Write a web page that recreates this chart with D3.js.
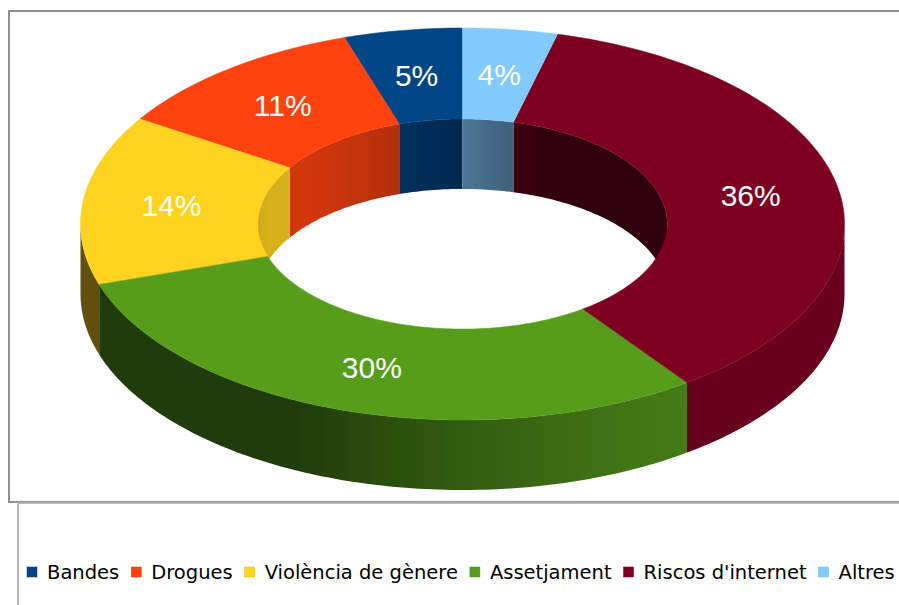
<!DOCTYPE html>
<html>
<head>
<meta charset="utf-8">
<script src="https://cdn.jsdelivr.net/npm/d3@7"></script>
<style>
  body { margin: 0; background: #fff; }
  svg { display: block; }
</style>
</head>
<body>
<svg width="899" height="605"></svg>
<script>
// data
const categories = ["Bandes", "Drogues", "Violència de gènere", "Assetjament", "Riscos d'internet", "Altres"]
const values = [5, 11, 14, 30, 36, 4]
const colors = ["#004586", "#ff420e", "#ffd320", "#579d1c", "#7e0021", "#83caff"]

const svg = d3.select("svg")
const defs = svg.append("defs")

// frames
svg.append("rect").attr("x", 9).attr("y", 11).attr("width", 920).attr("height", 491)
  .attr("fill", "none").attr("stroke", "#8e8e8e").attr("stroke-width", 2)
svg.append("rect").attr("x", 18).attr("y", 503).attr("width", 920).attr("height", 140)
  .attr("fill", "none").attr("stroke", "#b4b4b4").attr("stroke-width", 2)

// 3d ellipse geometry
const cx = 462.5, cy = 224, rx = 382, ry = 196, hole = 0.536, depth = 70
const pt = (a, k, dz) => [cx + k * rx * Math.sin(a), cy - k * ry * Math.cos(a) + (dz || 0)]

const color = d3.scaleOrdinal().domain(categories).range(colors)
const pie = d3.pie().sort(null).startAngle(0).endAngle(-2 * Math.PI)
const arcs = pie(values).map((d, i) => Object.assign(d, { name: categories[i] }))

// light comes from the right/front
const L = [0.9, 0.44]
function shade(c, n) {
  const dot = Math.max(0, n[0] * L[0] + n[1] * L[1])
  return d3.interpolateRgb("#000", c)(0.38 + 0.46 * dot)
}

const g = svg.append("g")
const walls = g.append("g")
const step = Math.PI / 180
let gid = 0

// one band per visible run of a slice, filled with a gradient along x
function wall(d, k, inner) {
  const a0 = d.startAngle, a1 = d.endAngle
  const n = Math.max(2, Math.ceil(Math.abs(a1 - a0) / step))
  const angs = d3.range(n + 1).map(i => a0 + (a1 - a0) * i / n)
  const runs = []
  let cur = null
  angs.forEach(a => {
    const vis = inner ? Math.cos(a) >= -1e-9 : Math.cos(a) <= 1e-9
    if (vis) { if (!cur) { cur = []; runs.push(cur) } cur.push(a) }
    else cur = null
  })
  runs.forEach(run => {
    if (run.length < 2) return
    const top = run.map(a => pt(a, k))
    const bot = run.slice().reverse().map(a => pt(a, k, depth))
    const xs = top.map(p => p[0])
    const x0 = d3.min(xs), x1 = d3.max(xs)
    const id = "w" + (gid++)
    const grad = defs.append("linearGradient").attr("id", id)
      .attr("gradientUnits", "userSpaceOnUse").attr("x1", x0).attr("x2", x1 + 0.01).attr("y1", 0).attr("y2", 0)
    const stops = run.map(a => {
      let nrm = [Math.sin(a), -Math.cos(a)]
      if (inner) nrm = [-nrm[0], -nrm[1]]
      return { off: (pt(a, k)[0] - x0) / (x1 - x0 + 0.01), c: shade(color(d.name), nrm) }
    }).sort((p, q) => p.off - q.off)
    stops.forEach(s => grad.append("stop").attr("offset", s.off).attr("stop-color", s.c))
    walls.append("path").attr("d", "M" + top.concat(bot).join("L") + "Z")
      .attr("fill", "url(#" + id + ")")
  })
}
arcs.forEach(d => wall(d, hole, true))
arcs.forEach(d => wall(d, 1, false))

// top faces
function topPath(d) {
  const n = Math.max(2, Math.ceil(Math.abs(d.endAngle - d.startAngle) / step))
  const outer = d3.range(n + 1).map(i => pt(d.startAngle + (d.endAngle - d.startAngle) * i / n, 1))
  const inner = d3.range(n + 1).map(i => pt(d.endAngle + (d.startAngle - d.endAngle) * i / n, hole))
  return "M" + outer.concat(inner).join("L") + "Z"
}
g.append("g").selectAll("path").data(arcs).join("path")
  .attr("d", topPath)
  .attr("fill", d => color(d.name))
  .attr("stroke", d => color(d.name)).attr("stroke-width", 0.5)

// labels
const mid = (1 + hole) / 2
g.append("g").selectAll("text").data(arcs).join("text")
  .attr("x", d => pt((d.startAngle + d.endAngle) / 2, mid)[0])
  .attr("y", d => pt((d.startAngle + d.endAngle) / 2, mid)[1])
  .attr("text-anchor", "middle").attr("dominant-baseline", "central")
  .attr("font-family", "Liberation Sans, Arial, sans-serif").attr("font-size", 30)
  .attr("fill", "#fff")
  .text(d => d.value + "%")

// legend
const legend = svg.append("g").attr("font-family", "DejaVu Sans, sans-serif").attr("font-size", 19.5)
let lx = 27
categories.forEach(name => {
  legend.append("rect").attr("x", lx).attr("y", 567).attr("width", 10).attr("height", 10)
    .attr("fill", color(name)).attr("stroke", d3.color(color(name)).darker(0.3)).attr("stroke-width", 0.5)
  const t = legend.append("text").attr("x", lx + 20).attr("y", 579).attr("fill", "#000").text(name)
  lx += 20 + t.node().getComputedTextLength() + 12
})
</script>
</body>
</html>
